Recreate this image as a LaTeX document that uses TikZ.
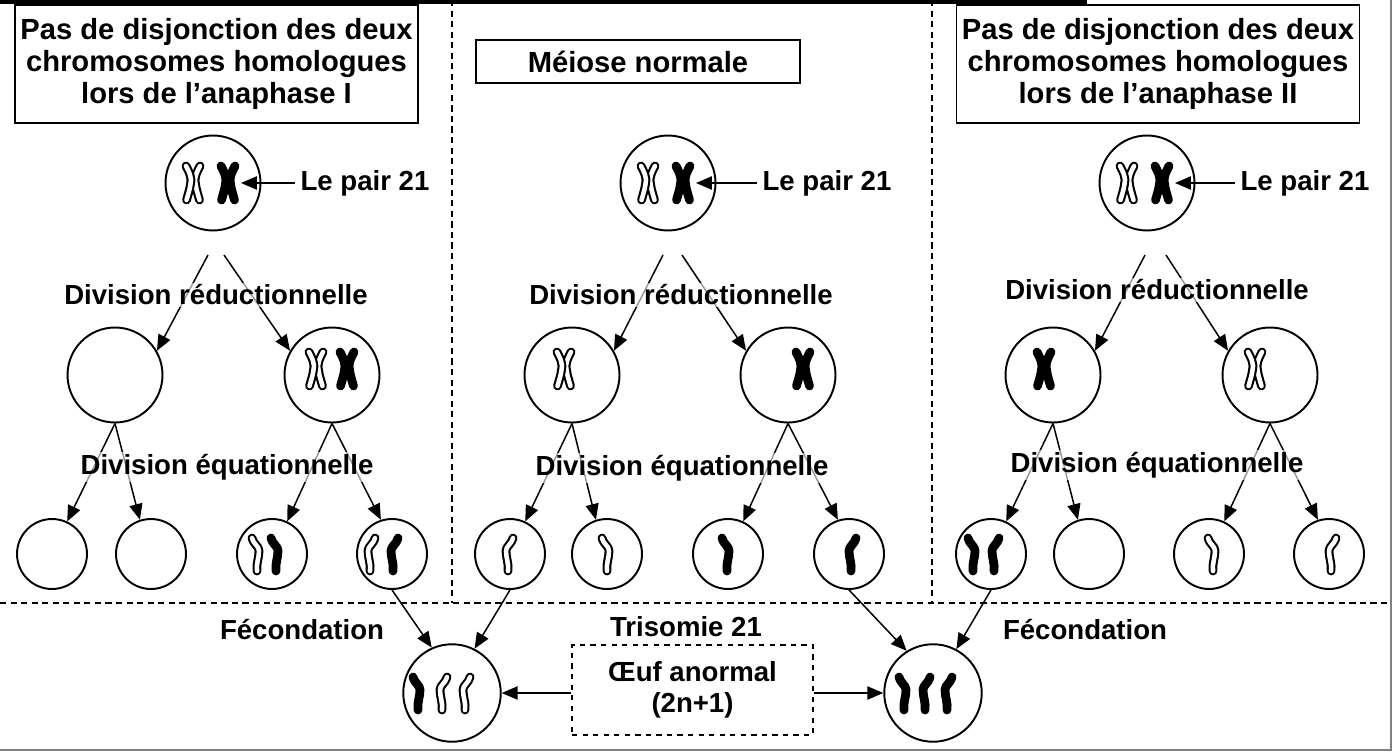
\documentclass[tikz,border=0pt]{standalone}
\usepackage{fontspec}
\setmainfont{Liberation Sans}
\usetikzlibrary{arrows.meta}

% one chromatid (colour / direction 1 or -1) and a doubled chromosome
\tikzset{
  pics/chromatid/.style args={#1/#2}{code={
    \foreach \w/\c in {5pt/black,2.6pt/#1}
      \draw[xscale=#2, line width=\w, draw=\c, line cap=round, line join=round]
        (-4,-16) .. controls (-2,-9) and (3,-8) .. (3,-3)
        .. controls (3,4) and (0,10) .. (1,17);
  }},
  pics/xchrom/.style={code={
    \foreach \s in {-1,1}
      \foreach \w/\c in {5pt/black,2.6pt/#1}
        \draw[xscale=\s, line width=\w, draw=\c, line cap=round, line join=round]
          (-7,-17) .. controls (-3,-9) .. (-2,-3)
          .. controls (-3,5) .. (-6.5,17);
  }},
}

\begin{document}
\begin{tikzpicture}[x=0.02cm, y=-0.02cm,
    font=\bfseries\fontsize{15.7pt}{18pt}\selectfont,
    cell/.style={circle, draw, line width=1.1pt, minimum size=1.9cm, inner sep=0pt},
    gamete/.style={circle, draw, line width=1.1pt, minimum size=1.4cm, inner sep=0pt},
    egg/.style={circle, draw, line width=1.1pt, minimum size=1.95cm, inner sep=0pt},
    titlebox/.style={draw, line width=1pt, align=center, inner sep=0pt,
      font=\bfseries\fontsize{16.6pt}{18.2pt}\selectfont},
    eggbox/.style={draw, dashed, line width=0.8pt, align=center, minimum width=4.82cm, minimum height=1.8cm},
    divlbl/.style={fill=white, fill opacity=0.6, text opacity=1, inner sep=1pt},
    lbl/.style={inner sep=3pt},
    arr/.style={-{Triangle[length=9pt,width=7.5pt]}, line width=0.85pt},
    sep/.style={dashed, line width=0.8pt, dash pattern=on 3.5pt off 2.5pt}
    ]
    \useasboundingbox (0,0) rectangle (1395,753);

    % frame and separators
    \draw[line width=2.2pt] (0,2) -- (1087,2);
    \draw[gray, line width=0.8pt] (0,750) -- (1391,750) -- (1391,0);
    \draw[sep] (0,603) -- (1391,603);
    \draw[sep] (452,0) -- (452,603);
    \draw[sep] (932,0) -- (932,603);

    % headings
    \node[titlebox, minimum width=8.06cm, minimum height=2.36cm] (h1) at (216.5,64)
      {Pas de disjonction des deux\\chromosomes homologues\\lors de l’anaphase I};
    \node[titlebox, minimum width=6.48cm, minimum height=0.86cm] (h2) at (638,61.5) {Méiose normale};
    \node[titlebox, minimum width=8.06cm, minimum height=2.36cm] (h3) at (1158,64)
      {Pas de disjonction des deux\\chromosomes homologues\\lors de l’anaphase II};

    % --- anaphase I ---
    \node[cell] (a0) at (213,183) {};
    \pic at (193,183) {xchrom=white};
    \pic at (228,183) {xchrom=black};
    \node[lbl, anchor=west] (pa) at (295,183) {Le pair 21};
    \coordinate (ka) at (241,183);
    \draw[arr] (pa) -- (ka);

    \node[cell] (a1) at (115,375) {};
    \node[cell] (a2) at (332,375) {};
    \pic at (316,369) {xchrom=white};
    \pic at (347,369) {xchrom=black};
    \coordinate (a0l) at (208,255);
    \coordinate (a0r) at (224,255);
    \draw[arr] (a0l) -- (a1.30);
    \draw[arr] (a0r) -- (a2.150);

    \node[gamete] (a11) at (52,554) {};
    \node[gamete] (a12) at (151,554) {};
    \node[gamete] (a21) at (272,554) {};
    \node[gamete] (a22) at (392,554) {};
    \pic at (256,554) {chromatid=white/1};
    \pic at (275,554) {chromatid=black/1};
    \pic at (371,554) {chromatid=white/-1};
    \pic at (394,554) {chromatid=black/-1};
    \draw[arr] (a1.south) -- (a11.65);
    \draw[arr] (a1.south) -- (a12.108);
    \draw[arr] (a2.south) -- (a21.65);
    \draw[arr] (a2.south) -- (a22.108);

    \node[divlbl] (ra) at (216,295) {Division réductionnelle};
    \node[divlbl] (qa) at (227,467) {Division équationnelle};

    % --- normal meiosis ---
    \node[cell] (b0) at (668,183) {};
    \pic at (648,183) {xchrom=white};
    \pic at (683,183) {xchrom=black};
    \node[lbl, anchor=west] (pb) at (757,183) {Le pair 21};
    \coordinate (kb) at (696,183);
    \draw[arr] (pb) -- (kb);

    \node[cell] (b1) at (572,375) {};
    \node[cell] (b2) at (788,375) {};
    \pic at (564,369) {xchrom=white};
    \pic at (803,369) {xchrom=black};
    \coordinate (b0l) at (663,255);
    \coordinate (b0r) at (682,255);
    \draw[arr] (b0l) -- (b1.30);
    \draw[arr] (b0r) -- (b2.150);

    \node[gamete] (b11) at (510,554) {};
    \node[gamete] (b12) at (607,554) {};
    \node[gamete] (b21) at (728,554) {};
    \node[gamete] (b22) at (849,554) {};
    \pic at (509,554) {chromatid=white/-1};
    \pic at (606,554) {chromatid=white/1};
    \pic at (726,554) {chromatid=black/1};
    \pic at (852,554) {chromatid=black/-1};
    \draw[arr] (b1.south) -- (b11.65);
    \draw[arr] (b1.south) -- (b12.108);
    \draw[arr] (b2.south) -- (b21.65);
    \draw[arr] (b2.south) -- (b22.108);

    \node[divlbl] (rb) at (681,295) {Division réductionnelle};
    \node[divlbl] (qb) at (682,468) {Division équationnelle};

    % --- anaphase II ---
    \node[cell] (c0) at (1147,183) {};
    \pic at (1127,183) {xchrom=white};
    \pic at (1162,183) {xchrom=black};
    \node[lbl, anchor=west] (pc) at (1235,183) {Le pair 21};
    \coordinate (kc) at (1175,183);
    \draw[arr] (pc) -- (kc);

    \node[cell] (c1) at (1053,375) {};
    \node[cell] (c2) at (1270,375) {};
    \pic at (1044,369) {xchrom=black};
    \pic at (1255,369) {xchrom=white};
    \coordinate (c0l) at (1145,255);
    \coordinate (c0r) at (1166,255);
    \draw[arr] (c0l) -- (c1.30);
    \draw[arr] (c0r) -- (c2.150);

    \node[gamete] (c11) at (991,554) {};
    \node[gamete] (c12) at (1089,554) {};
    \node[gamete] (c21) at (1209,554) {};
    \node[gamete] (c22) at (1329,554) {};
    \pic at (972,554) {chromatid=black/1};
    \pic at (995,554) {chromatid=black/-1};
    \pic at (1212,554) {chromatid=white/1};
    \pic at (1332,554) {chromatid=white/-1};
    \draw[arr] (c1.south) -- (c11.65);
    \draw[arr] (c1.south) -- (c12.108);
    \draw[arr] (c2.south) -- (c21.65);
    \draw[arr] (c2.south) -- (c22.108);

    \node[divlbl] (rc) at (1157,290) {Division réductionnelle};
    \node[divlbl] (qc) at (1157,465) {Division équationnelle};

    % --- fertilisation ---
    \node[egg] (e1) at (452,693) {};
    \pic at (417,693) {chromatid=black/1};
    \pic at (443,693) {chromatid=white/-1};
    \pic at (466,693) {chromatid=white/-1};
    \node[egg] (e2) at (933,693) {};
    \pic at (903,693) {chromatid=black/1};
    \pic at (926,693) {chromatid=black/-1};
    \pic at (948,693) {chromatid=black/-1};

    \draw[arr] (a22.south) -- (e1.114);
    \draw[arr] (b11.south) -- (e1.63);
    \draw[arr] (b22.south) -- (e2.122);
    \draw[arr] (c11.south) -- (e2.62);

    \node[lbl] (f1) at (302,630) {Fécondation};
    \node[lbl] (f2) at (1085,630) {Fécondation};
    \node[lbl] (t21) at (686,627) {Trisomie 21};
    \node[eggbox] (oe) at (692.5,690) {Œuf anormal\\(2n+1)};
    \draw[arr] (oe.west |- e1.center) -- (e1.east);
    \draw[arr] (oe.east |- e2.center) -- (e2.west);
\end{tikzpicture}
\end{document}
